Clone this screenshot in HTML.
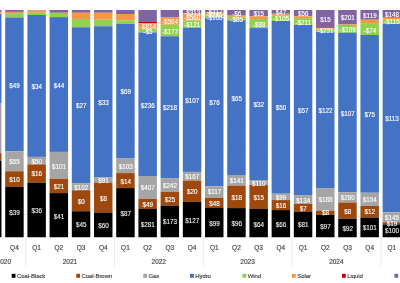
<!DOCTYPE html><html><head><meta charset="utf-8"><style>html,body{margin:0;padding:0;background:#fff;width:400px;height:283px;overflow:hidden}svg{display:block}text{font-family:"Liberation Sans",sans-serif}.ax{stroke:#4a4a4a;stroke-width:0.18}svg{will-change:transform}</style></head><body>
<svg width="400" height="283" viewBox="0 0 400 283">
<rect width="400" height="283" fill="#fff"/>
<line x1="0" x2="400" y1="32.73" y2="32.73" stroke="#dfe6ef" stroke-width="0.7" stroke-dasharray="1 1.5"/>
<line x1="0" x2="400" y1="55.45" y2="55.45" stroke="#dfe6ef" stroke-width="0.7" stroke-dasharray="1 1.5"/>
<line x1="0" x2="400" y1="78.17" y2="78.17" stroke="#dfe6ef" stroke-width="0.7" stroke-dasharray="1 1.5"/>
<line x1="0" x2="400" y1="100.9" y2="100.9" stroke="#dfe6ef" stroke-width="0.7" stroke-dasharray="1 1.5"/>
<line x1="0" x2="400" y1="123.62" y2="123.62" stroke="#dfe6ef" stroke-width="0.7" stroke-dasharray="1 1.5"/>
<line x1="0" x2="400" y1="146.35" y2="146.35" stroke="#dfe6ef" stroke-width="0.7" stroke-dasharray="1 1.5"/>
<line x1="0" x2="400" y1="169.07" y2="169.07" stroke="#dfe6ef" stroke-width="0.7" stroke-dasharray="1 1.5"/>
<line x1="0" x2="400" y1="191.8" y2="191.8" stroke="#dfe6ef" stroke-width="0.7" stroke-dasharray="1 1.5"/>
<line x1="0" x2="400" y1="214.53" y2="214.53" stroke="#dfe6ef" stroke-width="0.7" stroke-dasharray="1 1.5"/>
<rect x="-17" y="10" width="18.47" height="1.9" fill="#8064a2"/>
<rect x="-17" y="11.9" width="18.47" height="0.85" fill="#f79646"/>
<rect x="-17" y="12.75" width="18.47" height="1.25" fill="#92d050"/>
<rect x="-17" y="14" width="18.47" height="89.4" fill="#4472c4"/>
<rect x="-17" y="103.4" width="18.47" height="49.8" fill="#a5a5a5"/>
<rect x="-17" y="153.2" width="18.47" height="7.4" fill="#9e480e"/>
<rect x="-17" y="160.6" width="18.47" height="76.65" fill="#000000"/>
<rect x="5.2" y="10" width="18.47" height="1.9" fill="#8064a2"/>
<rect x="5.2" y="11.9" width="18.47" height="1.2" fill="#f79646"/>
<rect x="5.2" y="13.1" width="18.47" height="4.4" fill="#92d050"/>
<rect x="5.2" y="17.5" width="18.47" height="133.75" fill="#4472c4"/>
<rect x="5.2" y="151.25" width="18.47" height="20" fill="#a5a5a5"/>
<rect x="5.2" y="171.25" width="18.47" height="15.65" fill="#9e480e"/>
<rect x="5.2" y="186.9" width="18.47" height="50.35" fill="#000000"/>
<rect x="27.4" y="10" width="18.47" height="0.5" fill="#8064a2"/>
<rect x="27.4" y="10.5" width="18.47" height="2.25" fill="#f79646"/>
<rect x="27.4" y="12.75" width="18.47" height="2.25" fill="#92d050"/>
<rect x="27.4" y="15" width="18.47" height="141.9" fill="#4472c4"/>
<rect x="27.4" y="156.9" width="18.47" height="7.5" fill="#a5a5a5"/>
<rect x="27.4" y="164.4" width="18.47" height="18.5" fill="#9e480e"/>
<rect x="27.4" y="182.9" width="18.47" height="54.35" fill="#000000"/>
<rect x="49.6" y="10" width="18.47" height="2.75" fill="#8064a2"/>
<rect x="49.6" y="12.75" width="18.47" height="1.25" fill="#f79646"/>
<rect x="49.6" y="14" width="18.47" height="3.1" fill="#92d050"/>
<rect x="49.6" y="17.1" width="18.47" height="134.8" fill="#4472c4"/>
<rect x="49.6" y="151.9" width="18.47" height="26.85" fill="#a5a5a5"/>
<rect x="49.6" y="178.75" width="18.47" height="14.35" fill="#9e480e"/>
<rect x="49.6" y="193.1" width="18.47" height="44.15" fill="#000000"/>
<rect x="71.81" y="10" width="18.47" height="2.75" fill="#8064a2"/>
<rect x="71.81" y="12.75" width="18.47" height="6.25" fill="#f79646"/>
<rect x="71.81" y="19" width="18.47" height="8.25" fill="#92d050"/>
<rect x="71.81" y="27.25" width="18.47" height="155.85" fill="#4472c4"/>
<rect x="71.81" y="183.1" width="18.47" height="7.15" fill="#a5a5a5"/>
<rect x="71.81" y="190.25" width="18.47" height="21" fill="#9e480e"/>
<rect x="71.81" y="211.25" width="18.47" height="26" fill="#000000"/>
<rect x="94.01" y="10" width="18.47" height="2.75" fill="#8064a2"/>
<rect x="94.01" y="12.75" width="18.47" height="7" fill="#f79646"/>
<rect x="94.01" y="19.75" width="18.47" height="6.5" fill="#92d050"/>
<rect x="94.01" y="26.25" width="18.47" height="151.25" fill="#4472c4"/>
<rect x="94.01" y="177.5" width="18.47" height="5" fill="#a5a5a5"/>
<rect x="94.01" y="182.5" width="18.47" height="30" fill="#9e480e"/>
<rect x="94.01" y="212.5" width="18.47" height="24.75" fill="#000000"/>
<rect x="116.21" y="10" width="18.47" height="4" fill="#8064a2"/>
<rect x="116.21" y="14" width="18.47" height="6.25" fill="#f79646"/>
<rect x="116.21" y="20.25" width="18.47" height="3.75" fill="#92d050"/>
<rect x="116.21" y="24" width="18.47" height="134.1" fill="#4472c4"/>
<rect x="116.21" y="158.1" width="18.47" height="15" fill="#a5a5a5"/>
<rect x="116.21" y="173.1" width="18.47" height="15" fill="#9e480e"/>
<rect x="116.21" y="188.1" width="18.47" height="49.15" fill="#000000"/>
<rect x="138.41" y="10" width="18.47" height="11.9" fill="#8064a2"/>
<rect x="138.41" y="21.9" width="18.47" height="1.2" fill="#c00000"/>
<rect x="138.41" y="23.1" width="18.47" height="5.9" fill="#f79646"/>
<rect x="138.41" y="29" width="18.47" height="3.5" fill="#92d050"/>
<rect x="138.41" y="32.5" width="18.47" height="143.5" fill="#4472c4"/>
<rect x="138.41" y="176" width="18.47" height="22.75" fill="#a5a5a5"/>
<rect x="138.41" y="198.75" width="18.47" height="10.25" fill="#9e480e"/>
<rect x="138.41" y="209" width="18.47" height="28.25" fill="#000000"/>
<rect x="160.61" y="10" width="18.47" height="7.5" fill="#8064a2"/>
<rect x="160.61" y="17.5" width="18.47" height="7.25" fill="#f79646"/>
<rect x="160.61" y="24.75" width="18.47" height="11.5" fill="#92d050"/>
<rect x="160.61" y="36.25" width="18.47" height="141.85" fill="#4472c4"/>
<rect x="160.61" y="178.1" width="18.47" height="13.8" fill="#a5a5a5"/>
<rect x="160.61" y="191.9" width="18.47" height="13.7" fill="#9e480e"/>
<rect x="160.61" y="205.6" width="18.47" height="31.65" fill="#000000"/>
<rect x="182.82" y="10" width="18.47" height="3.5" fill="#8064a2"/>
<rect x="182.82" y="13.5" width="18.47" height="7.1" fill="#f79646"/>
<rect x="182.82" y="20.6" width="18.47" height="7.15" fill="#92d050"/>
<rect x="182.82" y="27.75" width="18.47" height="144.15" fill="#4472c4"/>
<rect x="182.82" y="171.9" width="18.47" height="8.7" fill="#a5a5a5"/>
<rect x="182.82" y="180.6" width="18.47" height="21.3" fill="#9e480e"/>
<rect x="182.82" y="201.9" width="18.47" height="35.35" fill="#000000"/>
<rect x="205.02" y="10" width="18.47" height="2" fill="#8064a2"/>
<rect x="205.02" y="12" width="18.47" height="2.5" fill="#f79646"/>
<rect x="205.02" y="14.5" width="18.47" height="3.5" fill="#92d050"/>
<rect x="205.02" y="18" width="18.47" height="168.25" fill="#4472c4"/>
<rect x="205.02" y="186.25" width="18.47" height="11.5" fill="#a5a5a5"/>
<rect x="205.02" y="197.75" width="18.47" height="9.75" fill="#9e480e"/>
<rect x="205.02" y="207.5" width="18.47" height="29.75" fill="#000000"/>
<rect x="227.22" y="10" width="18.47" height="5.6" fill="#8064a2"/>
<rect x="227.22" y="15.6" width="18.47" height="1.3" fill="#f79646"/>
<rect x="227.22" y="16.9" width="18.47" height="3.35" fill="#92d050"/>
<rect x="227.22" y="20.25" width="18.47" height="154.75" fill="#4472c4"/>
<rect x="227.22" y="175" width="18.47" height="10.6" fill="#a5a5a5"/>
<rect x="227.22" y="185.6" width="18.47" height="22.5" fill="#9e480e"/>
<rect x="227.22" y="208.1" width="18.47" height="29.15" fill="#000000"/>
<rect x="249.42" y="10" width="18.47" height="6.25" fill="#8064a2"/>
<rect x="249.42" y="16.25" width="18.47" height="2.75" fill="#f79646"/>
<rect x="249.42" y="19" width="18.47" height="9.1" fill="#92d050"/>
<rect x="249.42" y="28.1" width="18.47" height="151.9" fill="#4472c4"/>
<rect x="249.42" y="180" width="18.47" height="5" fill="#a5a5a5"/>
<rect x="249.42" y="185" width="18.47" height="24" fill="#9e480e"/>
<rect x="249.42" y="209" width="18.47" height="28.25" fill="#000000"/>
<rect x="271.62" y="10" width="18.47" height="3.75" fill="#8064a2"/>
<rect x="271.62" y="13.75" width="18.47" height="1.5" fill="#f79646"/>
<rect x="271.62" y="15.25" width="18.47" height="5.75" fill="#92d050"/>
<rect x="271.62" y="21" width="18.47" height="172.7" fill="#4472c4"/>
<rect x="271.62" y="193.7" width="18.47" height="6.4" fill="#a5a5a5"/>
<rect x="271.62" y="200.1" width="18.47" height="10" fill="#9e480e"/>
<rect x="271.62" y="210.1" width="18.47" height="27.15" fill="#000000"/>
<rect x="293.83" y="10" width="18.47" height="6.25" fill="#8064a2"/>
<rect x="293.83" y="16.25" width="18.47" height="1.85" fill="#f79646"/>
<rect x="293.83" y="18.1" width="18.47" height="6.9" fill="#92d050"/>
<rect x="293.83" y="25" width="18.47" height="170.1" fill="#4472c4"/>
<rect x="293.83" y="195.1" width="18.47" height="8.8" fill="#a5a5a5"/>
<rect x="293.83" y="203.9" width="18.47" height="8.1" fill="#9e480e"/>
<rect x="293.83" y="212" width="18.47" height="25.25" fill="#000000"/>
<rect x="316.03" y="10" width="18.47" height="17.5" fill="#8064a2"/>
<rect x="316.03" y="27.5" width="18.47" height="0.6" fill="#c00000"/>
<rect x="316.03" y="28.1" width="18.47" height="1.3" fill="#f79646"/>
<rect x="316.03" y="29.4" width="18.47" height="2.5" fill="#92d050"/>
<rect x="316.03" y="31.9" width="18.47" height="156.2" fill="#4472c4"/>
<rect x="316.03" y="188.1" width="18.47" height="22.5" fill="#a5a5a5"/>
<rect x="316.03" y="210.6" width="18.47" height="4.15" fill="#9e480e"/>
<rect x="316.03" y="214.75" width="18.47" height="22.5" fill="#000000"/>
<rect x="338.23" y="10" width="18.47" height="14.4" fill="#8064a2"/>
<rect x="338.23" y="24.4" width="18.47" height="1.6" fill="#f79646"/>
<rect x="338.23" y="26" width="18.47" height="6.75" fill="#92d050"/>
<rect x="338.23" y="32.75" width="18.47" height="159.5" fill="#4472c4"/>
<rect x="338.23" y="192.25" width="18.47" height="10.25" fill="#a5a5a5"/>
<rect x="338.23" y="202.5" width="18.47" height="16.25" fill="#9e480e"/>
<rect x="338.23" y="218.75" width="18.47" height="18.5" fill="#000000"/>
<rect x="360.43" y="10" width="18.47" height="9.75" fill="#8064a2"/>
<rect x="360.43" y="19.75" width="18.47" height="3.35" fill="#f79646"/>
<rect x="360.43" y="23.1" width="18.47" height="11.9" fill="#92d050"/>
<rect x="360.43" y="35" width="18.47" height="157.75" fill="#4472c4"/>
<rect x="360.43" y="192.75" width="18.47" height="13.25" fill="#a5a5a5"/>
<rect x="360.43" y="206" width="18.47" height="11.5" fill="#9e480e"/>
<rect x="360.43" y="217.5" width="18.47" height="19.75" fill="#000000"/>
<rect x="382.63" y="10" width="18.47" height="7.75" fill="#8064a2"/>
<rect x="382.63" y="17.75" width="18.47" height="1.65" fill="#f79646"/>
<rect x="382.63" y="19.4" width="18.47" height="4.35" fill="#92d050"/>
<rect x="382.63" y="23.75" width="18.47" height="188.5" fill="#4472c4"/>
<rect x="382.63" y="212.25" width="18.47" height="10" fill="#a5a5a5"/>
<rect x="382.63" y="222.25" width="18.47" height="2.15" fill="#9e480e"/>
<rect x="382.63" y="224.4" width="18.47" height="12.85" fill="#000000"/>
<clipPath id="pc"><rect x="0" y="10" width="400" height="227.25"/></clipPath><g clip-path="url(#pc)">
<text x="14.63" y="87.52" font-size="6.3" fill="#ffffff" stroke="#ffffff" stroke-width="0.12" text-anchor="middle">$49</text>
<text x="14.63" y="164.02" font-size="6.3" fill="#ffffff" stroke="#ffffff" stroke-width="0.12" text-anchor="middle">$55</text>
<text x="14.63" y="182.12" font-size="6.3" fill="#ffffff" stroke="#ffffff" stroke-width="0.12" text-anchor="middle">$10</text>
<text x="14.63" y="215.02" font-size="6.3" fill="#ececec" stroke="#ececec" stroke-width="0.12" text-anchor="middle">$39</text>
<text x="36.84" y="88.77" font-size="6.3" fill="#ffffff" stroke="#ffffff" stroke-width="0.12" text-anchor="middle">$34</text>
<text x="36.84" y="163.77" font-size="6.3" fill="#ffffff" stroke="#ffffff" stroke-width="0.12" text-anchor="middle">$50</text>
<text x="36.84" y="176.27" font-size="6.3" fill="#ffffff" stroke="#ffffff" stroke-width="0.12" text-anchor="middle">$16</text>
<text x="36.84" y="213.12" font-size="6.3" fill="#ececec" stroke="#ececec" stroke-width="0.12" text-anchor="middle">$36</text>
<text x="59.04" y="87.52" font-size="6.3" fill="#ffffff" stroke="#ffffff" stroke-width="0.12" text-anchor="middle">$44</text>
<text x="59.04" y="168.77" font-size="6.3" fill="#ffffff" stroke="#ffffff" stroke-width="0.12" text-anchor="middle">$101</text>
<text x="59.04" y="189.02" font-size="6.3" fill="#ffffff" stroke="#ffffff" stroke-width="0.12" text-anchor="middle">$21</text>
<text x="59.04" y="218.52" font-size="6.3" fill="#ececec" stroke="#ececec" stroke-width="0.12" text-anchor="middle">$41</text>
<text x="81.24" y="108.02" font-size="6.3" fill="#ffffff" stroke="#ffffff" stroke-width="0.12" text-anchor="middle">$27</text>
<text x="81.24" y="189.62" font-size="6.3" fill="#ffffff" stroke="#ffffff" stroke-width="0.12" text-anchor="middle">$102</text>
<text x="81.24" y="203.77" font-size="6.3" fill="#ffffff" stroke="#ffffff" stroke-width="0.12" text-anchor="middle">$0</text>
<text x="81.24" y="227.27" font-size="6.3" fill="#ececec" stroke="#ececec" stroke-width="0.12" text-anchor="middle">$45</text>
<text x="103.44" y="105.02" font-size="6.3" fill="#ffffff" stroke="#ffffff" stroke-width="0.12" text-anchor="middle">$33</text>
<text x="103.44" y="182.92" font-size="6.3" fill="#ffffff" stroke="#ffffff" stroke-width="0.12" text-anchor="middle">$91</text>
<text x="103.44" y="201.02" font-size="6.3" fill="#ffffff" stroke="#ffffff" stroke-width="0.12" text-anchor="middle">$8</text>
<text x="103.44" y="228.22" font-size="6.3" fill="#ececec" stroke="#ececec" stroke-width="0.12" text-anchor="middle">$60</text>
<text x="125.65" y="94.27" font-size="6.3" fill="#ffffff" stroke="#ffffff" stroke-width="0.12" text-anchor="middle">$69</text>
<text x="125.65" y="169.02" font-size="6.3" fill="#ffffff" stroke="#ffffff" stroke-width="0.12" text-anchor="middle">$103</text>
<text x="125.65" y="183.77" font-size="6.3" fill="#ffffff" stroke="#ffffff" stroke-width="0.12" text-anchor="middle">$14</text>
<text x="125.65" y="216.02" font-size="6.3" fill="#ececec" stroke="#ececec" stroke-width="0.12" text-anchor="middle">$87</text>
<text x="147.85" y="29.02" font-size="6.3" fill="#ffffff" stroke="#ffffff" stroke-width="0.12" text-anchor="middle">-$814</text>
<text x="147.85" y="33.77" font-size="6.3" fill="#ffffff" stroke="#ffffff" stroke-width="0.12" text-anchor="middle">-$5</text>
<text x="147.85" y="107.52" font-size="6.3" fill="#ffffff" stroke="#ffffff" stroke-width="0.12" text-anchor="middle">$236</text>
<text x="147.85" y="189.77" font-size="6.3" fill="#ffffff" stroke="#ffffff" stroke-width="0.12" text-anchor="middle">$407</text>
<text x="147.85" y="206.52" font-size="6.3" fill="#ffffff" stroke="#ffffff" stroke-width="0.12" text-anchor="middle">$49</text>
<text x="147.85" y="226.52" font-size="6.3" fill="#ececec" stroke="#ececec" stroke-width="0.12" text-anchor="middle">$281</text>
<text x="170.05" y="24.12" font-size="6.3" fill="#ffffff" stroke="#ffffff" stroke-width="0.12" text-anchor="middle">-$564</text>
<text x="170.05" y="33.77" font-size="6.3" fill="#ffffff" stroke="#ffffff" stroke-width="0.12" text-anchor="middle">-$177</text>
<text x="170.05" y="110.02" font-size="6.3" fill="#ffffff" stroke="#ffffff" stroke-width="0.12" text-anchor="middle">$218</text>
<text x="170.05" y="188.12" font-size="6.3" fill="#ffffff" stroke="#ffffff" stroke-width="0.12" text-anchor="middle">$242</text>
<text x="170.05" y="201.92" font-size="6.3" fill="#ffffff" stroke="#ffffff" stroke-width="0.12" text-anchor="middle">$25</text>
<text x="170.05" y="224.02" font-size="6.3" fill="#ececec" stroke="#ececec" stroke-width="0.12" text-anchor="middle">$173</text>
<text x="192.25" y="15.02" font-size="6.3" fill="#ffffff" stroke="#ffffff" stroke-width="0.12" text-anchor="middle">-$313</text>
<text x="192.25" y="20.02" font-size="6.3" fill="#ffffff" stroke="#ffffff" stroke-width="0.12" text-anchor="middle">-$568</text>
<text x="192.25" y="26.92" font-size="6.3" fill="#ffffff" stroke="#ffffff" stroke-width="0.12" text-anchor="middle">-$121</text>
<text x="192.25" y="102.52" font-size="6.3" fill="#ffffff" stroke="#ffffff" stroke-width="0.12" text-anchor="middle">$107</text>
<text x="192.25" y="179.42" font-size="6.3" fill="#ffffff" stroke="#ffffff" stroke-width="0.12" text-anchor="middle">$167</text>
<text x="192.25" y="194.42" font-size="6.3" fill="#ffffff" stroke="#ffffff" stroke-width="0.12" text-anchor="middle">$20</text>
<text x="192.25" y="222.92" font-size="6.3" fill="#ececec" stroke="#ececec" stroke-width="0.12" text-anchor="middle">$127</text>
<text x="214.45" y="14.32" font-size="6.3" fill="#ffffff" stroke="#ffffff" stroke-width="0.12" text-anchor="middle">-$217</text>
<text x="214.45" y="17.02" font-size="6.3" fill="#ffffff" stroke="#ffffff" stroke-width="0.12" text-anchor="middle">-$285</text>
<text x="214.45" y="19.92" font-size="6.3" fill="#ffffff" stroke="#ffffff" stroke-width="0.12" text-anchor="middle">-$105</text>
<text x="214.45" y="104.52" font-size="6.3" fill="#ffffff" stroke="#ffffff" stroke-width="0.12" text-anchor="middle">$76</text>
<text x="214.45" y="194.42" font-size="6.3" fill="#ffffff" stroke="#ffffff" stroke-width="0.12" text-anchor="middle">$117</text>
<text x="214.45" y="206.02" font-size="6.3" fill="#ffffff" stroke="#ffffff" stroke-width="0.12" text-anchor="middle">$48</text>
<text x="214.45" y="225.62" font-size="6.3" fill="#ececec" stroke="#ececec" stroke-width="0.12" text-anchor="middle">$99</text>
<text x="236.65" y="16.02" font-size="6.3" fill="#ffffff" stroke="#ffffff" stroke-width="0.12" text-anchor="middle">-$6</text>
<text x="236.65" y="21.92" font-size="6.3" fill="#ffffff" stroke="#ffffff" stroke-width="0.12" text-anchor="middle">-$85</text>
<text x="236.65" y="100.77" font-size="6.3" fill="#ffffff" stroke="#ffffff" stroke-width="0.12" text-anchor="middle">$65</text>
<text x="236.65" y="183.12" font-size="6.3" fill="#ffffff" stroke="#ffffff" stroke-width="0.12" text-anchor="middle">$141</text>
<text x="236.65" y="200.02" font-size="6.3" fill="#ffffff" stroke="#ffffff" stroke-width="0.12" text-anchor="middle">$18</text>
<text x="236.65" y="226.02" font-size="6.3" fill="#ececec" stroke="#ececec" stroke-width="0.12" text-anchor="middle">$96</text>
<text x="258.86" y="16.02" font-size="6.3" fill="#ffffff" stroke="#ffffff" stroke-width="0.12" text-anchor="middle">$15</text>
<text x="258.86" y="26.92" font-size="6.3" fill="#ffffff" stroke="#ffffff" stroke-width="0.12" text-anchor="middle">-$88</text>
<text x="258.86" y="107.02" font-size="6.3" fill="#ffffff" stroke="#ffffff" stroke-width="0.12" text-anchor="middle">$32</text>
<text x="258.86" y="185.62" font-size="6.3" fill="#ffffff" stroke="#ffffff" stroke-width="0.12" text-anchor="middle">$110</text>
<text x="258.86" y="199.77" font-size="6.3" fill="#ffffff" stroke="#ffffff" stroke-width="0.12" text-anchor="middle">$15</text>
<text x="258.86" y="226.52" font-size="6.3" fill="#ececec" stroke="#ececec" stroke-width="0.12" text-anchor="middle">$64</text>
<text x="281.06" y="15.02" font-size="6.3" fill="#ffffff" stroke="#ffffff" stroke-width="0.12" text-anchor="middle">$47</text>
<text x="281.06" y="21.27" font-size="6.3" fill="#ffffff" stroke="#ffffff" stroke-width="0.12" text-anchor="middle">-$105</text>
<text x="281.06" y="110.42" font-size="6.3" fill="#ffffff" stroke="#ffffff" stroke-width="0.12" text-anchor="middle">$50</text>
<text x="281.06" y="199.52" font-size="6.3" fill="#ffffff" stroke="#ffffff" stroke-width="0.12" text-anchor="middle">$99</text>
<text x="281.06" y="208.02" font-size="6.3" fill="#ffffff" stroke="#ffffff" stroke-width="0.12" text-anchor="middle">$16</text>
<text x="281.06" y="226.77" font-size="6.3" fill="#ececec" stroke="#ececec" stroke-width="0.12" text-anchor="middle">$66</text>
<text x="303.26" y="16.27" font-size="6.3" fill="#ffffff" stroke="#ffffff" stroke-width="0.12" text-anchor="middle">$56</text>
<text x="303.26" y="25.02" font-size="6.3" fill="#ffffff" stroke="#ffffff" stroke-width="0.12" text-anchor="middle">-$211</text>
<text x="303.26" y="113.12" font-size="6.3" fill="#ffffff" stroke="#ffffff" stroke-width="0.12" text-anchor="middle">$57</text>
<text x="303.26" y="203.02" font-size="6.3" fill="#ffffff" stroke="#ffffff" stroke-width="0.12" text-anchor="middle">$134</text>
<text x="303.26" y="211.42" font-size="6.3" fill="#ffffff" stroke="#ffffff" stroke-width="0.12" text-anchor="middle">$7</text>
<text x="303.26" y="227.02" font-size="6.3" fill="#ececec" stroke="#ececec" stroke-width="0.12" text-anchor="middle">$81</text>
<text x="325.46" y="21.92" font-size="6.3" fill="#ffffff" stroke="#ffffff" stroke-width="0.12" text-anchor="middle">$15</text>
<text x="325.46" y="33.12" font-size="6.3" fill="#ffffff" stroke="#ffffff" stroke-width="0.12" text-anchor="middle">-$231</text>
<text x="325.46" y="113.27" font-size="6.3" fill="#ffffff" stroke="#ffffff" stroke-width="0.12" text-anchor="middle">$122</text>
<text x="325.46" y="202.27" font-size="6.3" fill="#ffffff" stroke="#ffffff" stroke-width="0.12" text-anchor="middle">$188</text>
<text x="325.46" y="215.42" font-size="6.3" fill="#ffffff" stroke="#ffffff" stroke-width="0.12" text-anchor="middle">$8</text>
<text x="325.46" y="229.02" font-size="6.3" fill="#ececec" stroke="#ececec" stroke-width="0.12" text-anchor="middle">$97</text>
<text x="347.67" y="20.27" font-size="6.3" fill="#ffffff" stroke="#ffffff" stroke-width="0.12" text-anchor="middle">$201</text>
<text x="347.67" y="32.12" font-size="6.3" fill="#ffffff" stroke="#ffffff" stroke-width="0.12" text-anchor="middle">-$189</text>
<text x="347.67" y="115.52" font-size="6.3" fill="#ffffff" stroke="#ffffff" stroke-width="0.12" text-anchor="middle">$107</text>
<text x="347.67" y="200.27" font-size="6.3" fill="#ffffff" stroke="#ffffff" stroke-width="0.12" text-anchor="middle">$280</text>
<text x="347.67" y="213.52" font-size="6.3" fill="#ffffff" stroke="#ffffff" stroke-width="0.12" text-anchor="middle">$8</text>
<text x="347.67" y="231.02" font-size="6.3" fill="#ececec" stroke="#ececec" stroke-width="0.12" text-anchor="middle">$92</text>
<text x="369.87" y="18.12" font-size="6.3" fill="#ffffff" stroke="#ffffff" stroke-width="0.12" text-anchor="middle">$119</text>
<text x="369.87" y="32.52" font-size="6.3" fill="#ffffff" stroke="#ffffff" stroke-width="0.12" text-anchor="middle">-$74</text>
<text x="369.87" y="117.02" font-size="6.3" fill="#ffffff" stroke="#ffffff" stroke-width="0.12" text-anchor="middle">$75</text>
<text x="369.87" y="202.27" font-size="6.3" fill="#ffffff" stroke="#ffffff" stroke-width="0.12" text-anchor="middle">$154</text>
<text x="369.87" y="214.42" font-size="6.3" fill="#ffffff" stroke="#ffffff" stroke-width="0.12" text-anchor="middle">$12</text>
<text x="369.87" y="230.27" font-size="6.3" fill="#ececec" stroke="#ececec" stroke-width="0.12" text-anchor="middle">$101</text>
<text x="392.07" y="16.92" font-size="6.3" fill="#ffffff" stroke="#ffffff" stroke-width="0.12" text-anchor="middle">$148</text>
<text x="392.07" y="24.42" font-size="6.3" fill="#ffffff" stroke="#ffffff" stroke-width="0.12" text-anchor="middle">-$115</text>
<text x="392.07" y="120.52" font-size="6.3" fill="#ffffff" stroke="#ffffff" stroke-width="0.12" text-anchor="middle">$113</text>
<text x="392.07" y="220.02" font-size="6.3" fill="#ffffff" stroke="#ffffff" stroke-width="0.12" text-anchor="middle">$145</text>
<text x="392.07" y="226.27" font-size="6.3" fill="#ffffff" stroke="#ffffff" stroke-width="0.12" text-anchor="middle">$19</text>
<text x="392.07" y="233.12" font-size="6.3" fill="#ececec" stroke="#ececec" stroke-width="0.12" text-anchor="middle">$100</text>
</g>
<text x="-7.77" y="250" font-size="6.5" class="ax" fill="#4a4a4a" text-anchor="middle">Q3</text>
<text x="14.43" y="250" font-size="6.5" class="ax" fill="#4a4a4a" text-anchor="middle">Q4</text>
<text x="36.64" y="250" font-size="6.5" class="ax" fill="#4a4a4a" text-anchor="middle">Q1</text>
<text x="58.84" y="250" font-size="6.5" class="ax" fill="#4a4a4a" text-anchor="middle">Q2</text>
<text x="81.04" y="250" font-size="6.5" class="ax" fill="#4a4a4a" text-anchor="middle">Q3</text>
<text x="103.24" y="250" font-size="6.5" class="ax" fill="#4a4a4a" text-anchor="middle">Q4</text>
<text x="125.45" y="250" font-size="6.5" class="ax" fill="#4a4a4a" text-anchor="middle">Q1</text>
<text x="147.65" y="250" font-size="6.5" class="ax" fill="#4a4a4a" text-anchor="middle">Q2</text>
<text x="169.85" y="250" font-size="6.5" class="ax" fill="#4a4a4a" text-anchor="middle">Q3</text>
<text x="192.05" y="250" font-size="6.5" class="ax" fill="#4a4a4a" text-anchor="middle">Q4</text>
<text x="214.25" y="250" font-size="6.5" class="ax" fill="#4a4a4a" text-anchor="middle">Q1</text>
<text x="236.45" y="250" font-size="6.5" class="ax" fill="#4a4a4a" text-anchor="middle">Q2</text>
<text x="258.66" y="250" font-size="6.5" class="ax" fill="#4a4a4a" text-anchor="middle">Q3</text>
<text x="280.86" y="250" font-size="6.5" class="ax" fill="#4a4a4a" text-anchor="middle">Q4</text>
<text x="303.06" y="250" font-size="6.5" class="ax" fill="#4a4a4a" text-anchor="middle">Q1</text>
<text x="325.26" y="250" font-size="6.5" class="ax" fill="#4a4a4a" text-anchor="middle">Q2</text>
<text x="347.47" y="250" font-size="6.5" class="ax" fill="#4a4a4a" text-anchor="middle">Q3</text>
<text x="369.67" y="250" font-size="6.5" class="ax" fill="#4a4a4a" text-anchor="middle">Q4</text>
<text x="391.87" y="250" font-size="6.5" class="ax" fill="#4a4a4a" text-anchor="middle">Q1</text>
<line x1="25.74" x2="25.74" y1="237.25" y2="266.2" stroke="#dde5ef" stroke-width="0.8"/>
<line x1="114.54" x2="114.54" y1="237.25" y2="266.2" stroke="#dde5ef" stroke-width="0.8"/>
<line x1="203.35" x2="203.35" y1="237.25" y2="266.2" stroke="#dde5ef" stroke-width="0.8"/>
<line x1="292.16" x2="292.16" y1="237.25" y2="266.2" stroke="#dde5ef" stroke-width="0.8"/>
<line x1="380.97" x2="380.97" y1="237.25" y2="266.2" stroke="#dde5ef" stroke-width="0.8"/>
<text x="69.94" y="264.4" font-size="6.5" class="ax" fill="#4a4a4a" text-anchor="middle">2021</text>
<text x="158.75" y="264.4" font-size="6.5" class="ax" fill="#4a4a4a" text-anchor="middle">2022</text>
<text x="247.56" y="264.4" font-size="6.5" class="ax" fill="#4a4a4a" text-anchor="middle">2023</text>
<text x="336.36" y="264.4" font-size="6.5" class="ax" fill="#4a4a4a" text-anchor="middle">2024</text>
<text x="11" y="264.4" font-size="6.5" class="ax" fill="#4a4a4a" text-anchor="end">2020</text>
<rect x="11.7" y="273.8" width="3.8" height="4" fill="#000000"/>
<text x="16.9" y="277.9" font-size="6.0" letter-spacing="-0.06" class="ax" fill="#4a4a4a">Coal-Black</text>
<rect x="76.25" y="273.8" width="3.8" height="4" fill="#9e480e"/>
<text x="81.45" y="277.9" font-size="6.0" letter-spacing="-0.06" class="ax" fill="#4a4a4a">Coal-Brown</text>
<rect x="143.25" y="273.8" width="3.8" height="4" fill="#a5a5a5"/>
<text x="148.45" y="277.9" font-size="6.0" letter-spacing="-0.06" class="ax" fill="#4a4a4a">Gas</text>
<rect x="190" y="273.8" width="3.8" height="4" fill="#4472c4"/>
<text x="195.2" y="277.9" font-size="6.0" letter-spacing="-0.06" class="ax" fill="#4a4a4a">Hydro</text>
<rect x="242.5" y="273.8" width="3.8" height="4" fill="#92d050"/>
<text x="247.7" y="277.9" font-size="6.0" letter-spacing="-0.06" class="ax" fill="#4a4a4a">Wind</text>
<rect x="292" y="273.8" width="3.8" height="4" fill="#f79646"/>
<text x="297.2" y="277.9" font-size="6.0" letter-spacing="-0.06" class="ax" fill="#4a4a4a">Solar</text>
<rect x="342" y="273.8" width="3.8" height="4" fill="#c00000"/>
<text x="347.2" y="277.9" font-size="6.0" letter-spacing="-0.06" class="ax" fill="#4a4a4a">Liquid</text>
<rect x="394.4" y="273.8" width="3.8" height="4" fill="#8064a2"/>
</svg></body></html>
